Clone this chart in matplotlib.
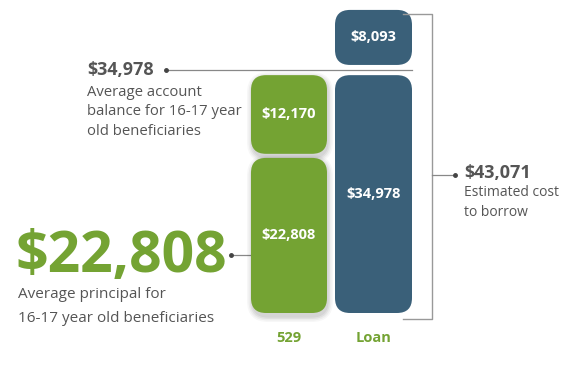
import matplotlib
matplotlib.use("Agg")
import matplotlib.pyplot as plt
from matplotlib.patches import FancyBboxPatch

# ---- data ----
categories = ["529", "Loan"]
principal_529 = 22808
growth_529 = 12170
loan_principal = 34978
loan_interest = 8093
total_cost = 43071
balance_529 = principal_529 + growth_529

GREEN = "#74a333"
BLUE = "#3a6079"
GRAY = "#555555"
LINE = "#888888"

W, H = 577, 369
K = 6.8          # pixels per 1000 $
BASE = 313       # pixel row of value 0

fig = plt.figure(figsize=(W / 100, H / 100), dpi=100)
ax = fig.add_axes([0, 0, 1, 1])
ax.set_xlim(0, W)
ax.set_ylim((BASE - H) / K, BASE / K)
ax.axis("off")

FONT = ["Open Sans", "DejaVu Sans"]


def py(p):
    """pixel row -> axis y (thousands)"""
    return (BASE - p) / K


def rbar(x0, x1, v0, v1, color, shadow=False):
    if shadow:
        for i, a in enumerate([0.05, 0.05, 0.04, 0.03]):
            d = 1.5 + i * 1.5
            sh = FancyBboxPatch((x0 - d + 2, v0 - (d + 3) / K), (x1 - x0) + 2 * d - 2,
                                (v1 - v0) + (2 * d) / K,
                                boxstyle="round,pad=0,rounding_size=%g" % (15 + d),
                                mutation_aspect=1 / K, fc="black", ec="none", alpha=a, zorder=1)
            ax.add_patch(sh)
    p = FancyBboxPatch((x0, v0), x1 - x0, v1 - v0,
                       boxstyle="round,pad=0,rounding_size=15",
                       mutation_aspect=1 / K, fc=color, ec="none", zorder=2)
    ax.add_patch(p)


GAP529 = 0.6
GAPLOAN = 1.5
X529 = (251, 327)
XLOAN = (335, 412)

v_p = principal_529 / 1000
v_b = balance_529 / 1000
v_l = loan_principal / 1000
v_t = total_cost / 1000

rbar(*X529, 0, v_p, GREEN, shadow=True)
rbar(*X529, v_p + GAP529, v_b, GREEN, shadow=True)
rbar(*XLOAN, 0, v_l, BLUE)
rbar(*XLOAN, v_l + GAPLOAN, v_t + GAPLOAN, BLUE)

c529 = sum(X529) / 2
cloan = sum(XLOAN) / 2
lab = dict(color="white", fontsize=10.5, fontweight="bold", ha="center", va="center",
           family=FONT, zorder=5)
ax.text(c529, v_p / 2, f"${principal_529:,}", **lab)
ax.text(c529, (v_p + GAP529 + v_b) / 2, f"${growth_529:,}", **lab)
ax.text(cloan, v_l / 2, f"${loan_principal:,}", **lab)
ax.text(cloan, v_l + GAPLOAN + (v_t - v_l) / 2, f"${loan_interest:,}", **lab)

# category labels
for c, name in zip([c529, cloan], categories):
    ax.text(c, py(338), name, color=GREEN, fontsize=10.5, fontweight="bold",
            ha="center", va="center", family=FONT)

# $34,978 annotation
yl = v_l + GAPLOAN / 2
ax.plot([166, XLOAN[1]], [yl, yl], color=LINE, lw=0.9, zorder=0)
ax.plot([166], [yl], "o", color="#444444", ms=2.5)
ax.text(87, yl, f"${balance_529:,}", color=GRAY, fontsize=13, fontweight="bold",
        ha="left", va="center", family=FONT)
for i, t in enumerate(["Average account", "balance for 16-17 year", "old beneficiaries"]):
    ax.text(87, py(92 + i * 19.5), t, color=GRAY, fontsize=10.7, ha="left",
            va="center", family=FONT)

# $22,808 annotation
yp = py(255)
ax.plot([231, X529[0]], [yp, yp], color=LINE, lw=0.9, zorder=0)
ax.plot([231], [yp], "o", color="#444444", ms=2.5)
ax.text(16, py(257), f"${principal_529:,}", color=GREEN, fontsize=41, fontweight="bold",
        ha="left", va="center", family=FONT)
ax.text(18, py(295), "Average principal for", color=GRAY, fontsize=11, ha="left",
        va="center", family=FONT)
ax.text(18, py(318), "16-17 year old beneficiaries", color=GRAY, fontsize=11,
        ha="left", va="center", family=FONT)

# bracket for total cost
ytop, ybot, ymid = py(14), py(319), py(175)
ax.plot([403, 432, 432, 403], [ytop, ytop, ybot, ybot], color="#999999", lw=1.0)
ax.plot([432, 455], [ymid, ymid], color=LINE, lw=0.9)
ax.plot([455], [ymid], "o", color="#444444", ms=2.5)
ax.text(464, py(173), f"${total_cost:,}", color=GRAY, fontsize=13, fontweight="bold",
        ha="left", va="center", family=FONT)
ax.text(464, py(193), "Estimated cost", color=GRAY, fontsize=10, ha="left",
        va="center", family=FONT)
ax.text(464, py(212), "to borrow", color=GRAY, fontsize=10, ha="left",
        va="center", family=FONT)

fig.savefig("out.png", dpi=100)
